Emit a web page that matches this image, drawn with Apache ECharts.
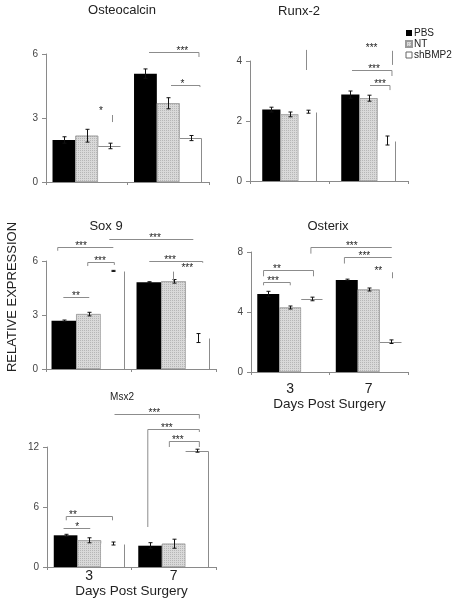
<!DOCTYPE html>
<html>
<head>
<meta charset="utf-8">
<script src="https://cdn.jsdelivr.net/npm/echarts@6/dist/echarts.min.js"></script>
<style>html,body{margin:0;padding:0;background:#fff;}#c{width:457px;height:601px;}</style>
</head>
<body>
<div id="c"></div>
<script>
// ---------- DATA ----------
const categories = ['3', '7'];
const seriesNames = ['PBS', 'NT', 'shBMP2'];
const panelTitles = ['Osteocalcin', 'Runx-2', 'Sox 9', 'Osterix', 'Msx2'];
const xAxisTitle = 'Days Post Surgery';
const yAxisTitle = 'RELATIVE EXPRESSION';

// y ticks [max, interval]
const yTicks = [[6, 3], [4, 2], [6, 3], [8, 4], [12, 6]];

const osteocalcinPBS = [1.97, 5.08], osteocalcinPBSErr = [0.15, 0.22];
const osteocalcinNT = [2.17, 3.69], osteocalcinNTErr = [0.30, 0.26];
const osteocalcinSh = [1.69, 2.06], osteocalcinShErr = [0.13, 0.12];

const runxPBS = [2.38, 2.88], runxPBSErr = [0.08, 0.12];
const runxNT = [2.22, 2.76], runxNTErr = [0.08, 0.10];
const runxSh = [2.31, 1.35], runxShErr = [0.05, 0.15];

const sox9PBS = [2.68, 4.82], sox9PBSErr = [0.04, 0.03];
const sox9NT = [3.05, 4.87], sox9NTErr = [0.10, 0.10];
const sox9Sh = [5.45, 1.72], sox9ShErr = [0.03, 0.25];

const osterixPBS = [5.20, 6.14], osterixPBSErr = [0.18, 0.05];
const osterixNT = [4.30, 5.50], osterixNTErr = [0.10, 0.10];
const osterixSh = [4.87, 2.02], osterixShErr = [0.12, 0.12];

const msx2PBS = [3.17, 2.13], msx2PBSErr = [0.10, 0.30];
const msx2NT = [2.67, 2.33], msx2NTErr = [0.25, 0.45];
const msx2Sh = [2.35, 11.63], msx2ShErr = [0.15, 0.15];

// significance brackets: [x1, x2, y, leftTickTo, rightTickTo, label, labelX]  (x in category units)
const osteocalcinBrackets = [[0.764, 1.377, 6.11, null, 5.86, '***', 1.173], [1.034, 1.389, 4.55, null, 4.45, '*', 1.173]];
const runxBrackets = [[0.791, 1.297, 3.69, null, 3.5, '***', 1.07], [1.019, 1.272, 3.2, null, 3.03, '***', 1.146]];
const sox9Brackets = [[-0.362, 0.292, 6.76, 6.57, null, '***', -0.088], [0.245, 1.233, 7.2, null, null, '***', 0.782],
  [-0.009, 0.304, 5.96, 5.72, 5.78, '***', 0.135], [-0.296, 0.009, 3.99, null, null, '**', -0.147],
  [0.715, 1.344, 6.02, null, 5.9, '***', 0.959]];
const osterixBrackets = [[0.263, 1.293, 8.33, 7.89, null, '***', 0.784], [0.69, 1.293, 7.69, 7.23, null, '***', 0.944],
  [-0.34, 0.296, 6.78, 6.38, 6.38, '**', -0.169], [-0.34, 0.0, 6.0, 5.78, 5.78, '***', -0.22]];
const msx2Brackets = [[0.299, 1.303, 15.34, null, 14.84, '***', 0.771], [0.693, 1.303, 13.84, 4.0, 13.5, '***', 0.918],
  [0.948, 1.303, 12.6, 12.0, 12.0, '***', 1.048], [-0.272, 0.275, 5.14, 4.67, 4.67, '**', -0.193],
  [-0.304, 0.012, 3.9, null, null, '*', -0.142]];
// loose star labels: [label, x, y]
const osteocalcinStars = [['*', 0.175, 3.42]];
const runxStars = [['***', 1.04, 4.48]];
const sox9Stars = [['***', 1.162, 5.72]];
const osterixStars = [['**', 1.122, 6.83]];
const msx2Stars = [];
// stray vertical strokes: [x, y1, y2]
const osteocalcinStrokes = [[0.31, 3.14, 2.81]];
const runxStrokes = [[0.205, 4.37, 3.7], [1.301, 4.34, 3.87]];
const sox9Strokes = [[0.99, 5.41, 4.84]];
const osterixStrokes = [[1.3, 6.65, 6.25]];
const msx2Strokes = [];

// ---------- LAYOUT / STYLE ----------
// we: visible outline edges of the white (shBMP2) bar per category: t = top, r = right
const panels = [
  { vals: [osteocalcinPBS, osteocalcinNT, osteocalcinSh], errs: [osteocalcinPBSErr, osteocalcinNTErr, osteocalcinShErr],
    br: osteocalcinBrackets, st: osteocalcinStars, sk: osteocalcinStrokes, we: ['t', 'tr'],
    grid: { left: 46, top: 54, width: 163, height: 128 }, bw: 28, title: [122, 10, 13], xl: false },
  { vals: [runxPBS, runxNT, runxSh], errs: [runxPBSErr, runxNTErr, runxShErr],
    br: runxBrackets, st: runxStars, sk: runxStrokes, we: ['r', 'r'],
    grid: { left: 250, top: 61, width: 158, height: 120 }, bw: 23, title: [299, 11, 13], xl: false },
  { vals: [sox9PBS, sox9NT, sox9Sh], errs: [sox9PBSErr, sox9NTErr, sox9ShErr],
    br: sox9Brackets, st: sox9Stars, sk: sox9Strokes, we: ['r', 'r'],
    grid: { left: 46, top: 261, width: 170, height: 108 }, bw: 29, title: [106, 226, 13], xl: false },
  { vals: [osterixPBS, osterixNT, osterixSh], errs: [osterixPBSErr, osterixNTErr, osterixShErr],
    br: osterixBrackets, st: osterixStars, sk: osterixStrokes, we: ['t', 't'],
    grid: { left: 251, top: 252, width: 157, height: 120 }, bw: 28, title: [328, 226, 13], xl: true, lm: 10, ng: 25 },
  { vals: [msx2PBS, msx2NT, msx2Sh], errs: [msx2PBSErr, msx2NTErr, msx2ShErr],
    br: msx2Brackets, st: msx2Stars, sk: msx2Strokes, we: ['r', 'tr'],
    grid: { left: 47, top: 447, width: 169, height: 120 }, bw: 28, title: [122, 397, 10], xl: true, lm: 2, ng: 17 }
];

const FONT = 'Liberation Sans, Arial, sans-serif';
const axisGray = '#8a8a8a';
const edgeGray = '#8c8c8c';
const barStyles = [
  { color: '#000000' },
  { color: '#d9d9d9', borderColor: '#9a9a9a', borderWidth: 0.6,
    decal: { symbol: 'rect', symbolSize: 1, dashArrayX: [1, 1], dashArrayY: [1, 1], color: 'rgba(140,140,140,0.45)', rotation: 0 } },
  { color: '#ffffff', borderWidth: 0 }
];

const grids = [], xAxes = [], yAxes = [], series = [], graphics = [];

panels.forEach((p, g) => {
  grids.push(p.grid);
  xAxes.push({
    type: 'category', gridIndex: g, data: categories,
    axisLine: { onZero: false, lineStyle: { color: axisGray } },
    axisTick: { show: true, length: 3, lineStyle: { color: axisGray } },
    axisLabel: { show: p.xl, fontSize: 14, color: '#222', fontFamily: FONT, margin: p.lm || 8 },
    name: p.xl ? xAxisTitle : '', nameLocation: 'middle', nameGap: p.ng || 30,
    nameTextStyle: { fontSize: 13.5, color: '#222', fontFamily: FONT }
  });
  xAxes.push({ type: 'value', gridIndex: g, min: -0.5, max: 1.5, show: false,
    axisLine: { show: false, onZero: false }, splitLine: { show: false }, axisTick: { show: false }, axisLabel: { show: false } });
  yAxes.push({
    type: 'value', gridIndex: g, min: 0, max: yTicks[g][0], interval: yTicks[g][1],
    axisLine: { show: true, onZero: false, lineStyle: { color: axisGray } },
    axisTick: { show: true, length: 4, lineStyle: { color: axisGray } },
    splitLine: { show: false },
    axisLabel: { fontSize: 10, color: '#444', fontFamily: FONT, margin: 8 }
  });
  p.vals.forEach((v, k) => {
    series.push({
      type: 'bar', name: seriesNames[k], xAxisIndex: 2 * g, yAxisIndex: g, data: v,
      barWidth: p.bw + '%', barGap: '0%', itemStyle: barStyles[k], silent: true
    });
  });
  const frac = p.bw / 100;
  // visible edges of white bars
  const edgeData = p.vals[2].map((val, c) => [c + frac, val, c]);
  series.push({
    type: 'custom', name: 'edge' + g, xAxisIndex: 2 * g + 1, yAxisIndex: g, data: edgeData, silent: true, z: 4,
    renderItem: (params, api) => {
      const x = api.value(0), v = api.value(1), c = api.value(2);
      const flags = p.we[c];
      const tl = api.coord([x - frac / 2, v]), tr = api.coord([x + frac / 2, v]), br = api.coord([x + frac / 2, 0]);
      const st = { stroke: edgeGray, lineWidth: 1 };
      const ch = [];
      const rx = Math.round(tr[0]) - 0.5, ty = Math.round(tl[1]) + 0.5;
      if (flags.indexOf('t') >= 0) ch.push({ type: 'line', shape: { x1: tl[0], y1: ty, x2: rx, y2: ty }, style: st });
      if (flags.indexOf('r') >= 0) ch.push({ type: 'line', shape: { x1: rx, y1: ty, x2: rx, y2: br[1] }, style: st });
      return { type: 'group', children: ch };
    }
  });
  const errData = [];
  p.vals.forEach((v, k) => v.forEach((val, c) => errData.push([c + (k - 1) * frac, val, p.errs[k][c]])));
  series.push({
    type: 'custom', name: 'err' + g, xAxisIndex: 2 * g + 1, yAxisIndex: g, data: errData, silent: true, z: 5,
    renderItem: (params, api) => {
      const x = api.value(0), v = api.value(1), e = api.value(2);
      const t = api.coord([x, v + e]), b = api.coord([x, v - e]);
      const cx = Math.round(t[0]) + 0.5, w = 2;
      const st = { stroke: '#111', lineWidth: 1 };
      return { type: 'group', children: [
        { type: 'line', shape: { x1: cx, y1: t[1], x2: cx, y2: b[1] }, style: st },
        { type: 'line', shape: { x1: cx - w, y1: t[1], x2: cx + w, y2: t[1] }, style: st },
        { type: 'line', shape: { x1: cx - w, y1: b[1], x2: cx + w, y2: b[1] }, style: st }
      ]};
    }
  });
  const ann = [];
  p.br.forEach(b => ann.push({ t: 'br', d: b }));
  p.st.forEach(s => ann.push({ t: 'tx', d: s }));
  p.sk.forEach(s => ann.push({ t: 'ln', d: s }));
  series.push({
    type: 'custom', name: 'ann' + g, xAxisIndex: 2 * g + 1, yAxisIndex: g, silent: true, z: 6,
    data: ann.map((a, i) => [i, 0]),
    renderItem: (params, api) => {
      const a = ann[params.dataIndex];
      const lst = { stroke: edgeGray, lineWidth: 1 };
      const txt = (s, x, y) => ({ type: 'text', x: x, y: y,
        style: { text: s, fontSize: 10, fontFamily: FONT, fill: '#222', align: 'center', verticalAlign: 'middle' } });
      if (a.t === 'br') {
        const [x1, x2, y, lt, rt, lab, lx] = a.d;
        const p1 = api.coord([x1, y]), p2 = api.coord([x2, y]);
        const yy = Math.round(p1[1]) + 0.5;
        const ch = [{ type: 'line', shape: { x1: p1[0], y1: yy, x2: p2[0], y2: yy }, style: lst }];
        if (lt !== null) ch.push({ type: 'line', shape: { x1: p1[0], y1: yy, x2: p1[0], y2: api.coord([x1, lt])[1] }, style: lst });
        if (rt !== null) ch.push({ type: 'line', shape: { x1: p2[0], y1: yy, x2: p2[0], y2: api.coord([x2, rt])[1] }, style: lst });
        ch.push(txt(lab, api.coord([lx, y])[0], yy - 1));
        return { type: 'group', children: ch };
      } else if (a.t === 'tx') {
        const [lab, x, y] = a.d;
        const pt = api.coord([x, y]);
        return txt(lab, pt[0], pt[1] + 2);
      } else {
        const [x, y1, y2] = a.d;
        const q1 = api.coord([x, y1]), q2 = api.coord([x, y2]);
        const xx = Math.round(q1[0]) + 0.5;
        return { type: 'line', shape: { x1: xx, y1: q1[1], x2: xx, y2: q2[1] }, style: lst };
      }
    }
  });
  graphics.push({ type: 'text', x: p.title[0], y: p.title[1],
    style: { text: panelTitles[g], fontSize: p.title[2], fontFamily: FONT, fill: '#222', align: 'center', verticalAlign: 'middle' } });
});

graphics.push({ type: 'text', x: 12, y: 297, rotation: Math.PI / 2,
  style: { text: yAxisTitle, fontSize: 13, fontFamily: FONT, fill: '#222', align: 'center', verticalAlign: 'middle' } });

const chart = echarts.init(document.getElementById('c'), null, { renderer: 'canvas' });
chart.setOption({
  animation: false,
  backgroundColor: '#ffffff',
  grid: grids, xAxis: xAxes, yAxis: yAxes, series: series, graphic: graphics,
  legend: {
    data: [seriesNames[0], seriesNames[1], { name: seriesNames[2], itemStyle: { color: '#ffffff', borderColor: '#666', borderWidth: 1 } }],
    orient: 'vertical', left: 405, top: 28, padding: 0,
    itemWidth: 6, itemHeight: 6, itemGap: 1, icon: 'rect', selectedMode: false,
    textStyle: { fontSize: 10, lineHeight: 10, fontFamily: FONT, color: '#222', padding: [0, 0, 0, -3] }
  }
});
</script>
</body>
</html>
